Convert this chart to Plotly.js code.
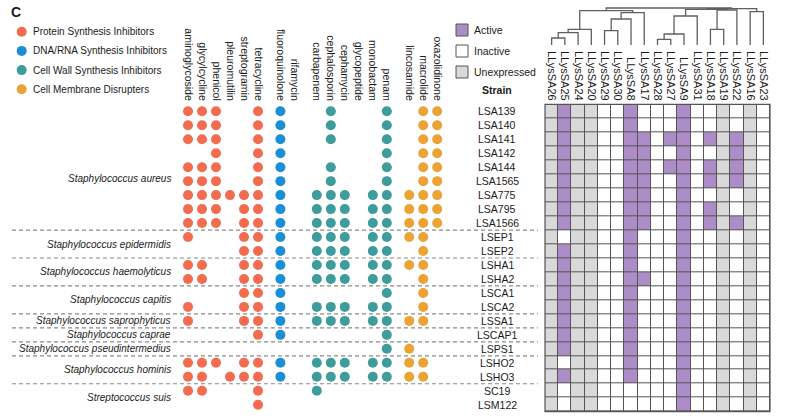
<!DOCTYPE html>
<html>
<head>
<meta charset="utf-8">
<script src="https://cdn.plot.ly/plotly-3.0.1.min.js"></script>
<style>html,body{margin:0;padding:0;background:#fff;}#chart{width:803px;height:419px;}</style>
</head>
<body>
<div id="chart"></div>
<script>
// ---------------- DATA ----------------
const drugClasses = ['aminoglycoside','glycylcycline','phenicol','pleuromutilin','streptogramin','tetracycline',
  'fluoroquinolone','rifamycin',
  'carbapenem','cephalosporin','cephamycin','glycopeptide','monobactam','penam',
  'lincosamide','macrolide','oxazolidinone'];
const mechanisms = ['Protein Synthesis Inhibitors','DNA/RNA Synthesis Inhibitors','Cell Wall Synthesis Inhibitors','Cell Membrane Disrupters'];
const classMechanism = [0,0,0,0,0,0, 1,1, 2,2,2,2,2,2, 3,3,3];

const strains = ['LSA139','LSA140','LSA141','LSA142','LSA144','LSA1565','LSA775','LSA795','LSA1566',
  'LSEP1','LSEP2','LSHA1','LSHA2','LSCA1','LSCA2','LSSA1','LSCAP1','LSPS1','LSHO2','LSHO3','SC19','LSM122'];
const species = ['Staphylococcus aureus','Staphylococcus epidermidis','Staphylococcus haemolyticus','Staphylococcus capitis',
  'Staphylococcus saprophyticus','Staphylococcus caprae','Staphylococcus pseudintermedius','Staphylococcus hominis','Streptococcus suis'];
const speciesStrainCount = [9,2,2,2,1,1,1,2,2];

const basicSA = ['aminoglycoside','glycylcycline','phenicol','tetracycline','fluoroquinolone','cephalosporin','penam','macrolide','oxazolidinone'];
const resistanceGenes = [
  basicSA,
  basicSA,
  basicSA,
  ['phenicol','tetracycline','fluoroquinolone','penam','macrolide','oxazolidinone'],
  basicSA,
  basicSA,
  ['aminoglycoside','glycylcycline','phenicol','pleuromutilin','streptogramin','tetracycline','fluoroquinolone','carbapenem','cephalosporin','cephamycin','monobactam','penam','lincosamide','macrolide','oxazolidinone'],
  ['aminoglycoside','glycylcycline','phenicol','streptogramin','tetracycline','fluoroquinolone','carbapenem','cephalosporin','cephamycin','monobactam','penam','lincosamide','macrolide','oxazolidinone'],
  ['aminoglycoside','glycylcycline','phenicol','streptogramin','tetracycline','fluoroquinolone','carbapenem','cephalosporin','cephamycin','monobactam','penam','lincosamide','macrolide','oxazolidinone'],
  ['aminoglycoside','streptogramin','tetracycline','fluoroquinolone','carbapenem','cephalosporin','cephamycin','monobactam','penam','lincosamide','macrolide'],
  ['streptogramin','tetracycline','fluoroquinolone','carbapenem','cephalosporin','cephamycin','monobactam','penam','macrolide'],
  ['aminoglycoside','glycylcycline','streptogramin','tetracycline','fluoroquinolone','carbapenem','cephalosporin','cephamycin','monobactam','penam','lincosamide','macrolide'],
  ['aminoglycoside','glycylcycline','streptogramin','tetracycline','fluoroquinolone','carbapenem','cephalosporin','cephamycin','monobactam','penam','macrolide'],
  ['streptogramin','tetracycline','fluoroquinolone','penam','macrolide'],
  ['aminoglycoside','streptogramin','tetracycline','fluoroquinolone','carbapenem','cephalosporin','cephamycin','monobactam','penam','macrolide'],
  ['aminoglycoside','streptogramin','tetracycline','fluoroquinolone','carbapenem','cephalosporin','cephamycin','monobactam','penam','lincosamide','macrolide'],
  ['tetracycline','fluoroquinolone','penam'],
  ['penam','lincosamide'],
  ['aminoglycoside','glycylcycline','phenicol','streptogramin','tetracycline','fluoroquinolone','carbapenem','cephalosporin','cephamycin','monobactam','penam','lincosamide','macrolide'],
  ['aminoglycoside','glycylcycline','pleuromutilin','streptogramin','tetracycline','fluoroquinolone','carbapenem','cephalosporin','cephamycin','monobactam','penam','lincosamide','macrolide'],
  ['aminoglycoside','glycylcycline','tetracycline','carbapenem'],
  ['tetracycline']
];

const lysins = ['LLysSA26','LLysSA25','LLysSA24','LLysSA20','LLysSA29','LLysSA30','LLysSA8','LLysSA17','LLysSA28',
  'LLysSA27','LLysSA9','LLysSA31','LLysSA18','LLysSA19','LLysSA22','LLysSA16','LLysSA23'];
const unexpressedLysins = ['LLysSA26','LLysSA24','LLysSA20','LLysSA19','LLysSA16'];
const activeLysins = [
  ['LLysSA25','LLysSA8','LLysSA9'],
  ['LLysSA25','LLysSA8','LLysSA9'],
  ['LLysSA25','LLysSA8','LLysSA17','LLysSA27','LLysSA9','LLysSA18','LLysSA22'],
  ['LLysSA25','LLysSA8','LLysSA17','LLysSA9','LLysSA22'],
  ['LLysSA25','LLysSA8','LLysSA17','LLysSA27','LLysSA9','LLysSA18','LLysSA22'],
  ['LLysSA25','LLysSA8','LLysSA17','LLysSA9','LLysSA18','LLysSA22'],
  ['LLysSA25','LLysSA8','LLysSA17','LLysSA9'],
  ['LLysSA25','LLysSA8','LLysSA17','LLysSA9','LLysSA18'],
  ['LLysSA25','LLysSA8','LLysSA17','LLysSA9','LLysSA18','LLysSA22'],
  ['LLysSA8','LLysSA9'],
  ['LLysSA25','LLysSA8','LLysSA9'],
  ['LLysSA25','LLysSA8','LLysSA9'],
  ['LLysSA25','LLysSA8','LLysSA17','LLysSA9'],
  ['LLysSA25','LLysSA8','LLysSA9'],
  ['LLysSA25','LLysSA8','LLysSA9'],
  ['LLysSA25','LLysSA8','LLysSA9'],
  ['LLysSA25','LLysSA8','LLysSA9'],
  ['LLysSA25','LLysSA8','LLysSA9'],
  ['LLysSA8','LLysSA9'],
  ['LLysSA25','LLysSA8','LLysSA9'],
  ['LLysSA9'],
  ['LLysSA9']
];
const statusNames = ['Active','Inactive','Unexpressed'];

// dendrogram linkage: [childA, childB, height]; ids >= 17 refer to earlier merges
const lysinLinkage = [
  [0,1,7],[17,2,12.3],[18,3,15.7],
  [4,5,14.3],[20,6,26],[21,7,32.3],
  [19,22,34.3],
  [8,9,5.7],[24,10,11],[25,11,29],
  [12,13,15.7],[27,14,35],
  [26,28,35.7],
  [15,16,33.3],
  [29,30,36.3],
  [23,31,37]
];

// ---------------- STYLE / LAYOUT ----------------
const W = 803, H = 419;
const px = x => x / W, py = y => 1 - y / H;
const FONT = 'Liberation Sans, Arial, Helvetica, sans-serif';
const mechColors = ['#F26C4F','#1B8FD4','#3E9C9C','#EBA335'];
const statusColors = {Active:'#AC8DC7', Inactive:'#FFFFFF', Unexpressed:'#D9D9D9'};
const gridColor = '#555555';
const textColor = '#1a1a1a';

const rowTop = 104.3, rowBottom = 411.7;
const dotUnit = 14, dotLeft = 174, dotRight = 451, dotX0 = 188;
const heatLeft = 545, heatRight = 770;

// column positions for drug classes (index plus gap per mechanism group)
const classPos = drugClasses.map((c, i) => i + 0.6 * classMechanism[i]);

// dots traces
const traces = [];
mechanisms.forEach((m, g) => {
  const xs = [], ys = [];
  strains.forEach((s, r) => {
    resistanceGenes[r].forEach(c => {
      const ci = drugClasses.indexOf(c);
      if (classMechanism[ci] === g) { xs.push(classPos[ci]); ys.push(s); }
    });
  });
  traces.push({type:'scatter', mode:'markers', x: xs, y: ys, xaxis:'x', yaxis:'y', name: m,
    marker:{size:10, color: mechColors[g]}, hoverinfo:'skip'});
});

// heatmap
const statusValue = {Unexpressed:0, Inactive:1, Active:2};
const z = strains.map((s, r) => lysins.map(l =>
  unexpressedLysins.includes(l) ? statusValue.Unexpressed :
  (activeLysins[r].includes(l) ? statusValue.Active : statusValue.Inactive)));
traces.push({type:'heatmap', x: lysins, y: strains, z: z, xaxis:'x2', yaxis:'y',
  zmin:0, zmax:2, showscale:false, xgap:1, ygap:1, hoverinfo:'skip',
  colorscale:[[0,statusColors.Unexpressed],[0.333,statusColors.Unexpressed],[0.334,statusColors.Inactive],
              [0.666,statusColors.Inactive],[0.667,statusColors.Active],[1,statusColors.Active]]});

// dendrogram
const nodeX = lysins.map((_, i) => i), nodeH = lysins.map(() => 0);
const dx = [], dy = [];
lysinLinkage.forEach(([a, b, h]) => {
  dx.push(nodeX[a], nodeX[a], nodeX[b], nodeX[b], null);
  dy.push(nodeH[a], h, h, nodeH[b], null);
  nodeX.push((nodeX[a] + nodeX[b]) / 2); nodeH.push(h);
});
traces.push({type:'scatter', mode:'lines', x: dx, y: dy, xaxis:'x3', yaxis:'y2',
  line:{color:'#606060', width:1.3}, hoverinfo:'skip', connectgaps:false});

const shapes = [], annotations = [];

// heatmap grid background + border
shapes.push({type:'rect', xref:'x2 domain', yref:'y domain', x0:0, x1:1, y0:0, y1:1,
  fillcolor:gridColor, line:{width:0}, layer:'below'});
shapes.push({type:'rect', xref:'x2 domain', yref:'y domain', x0:0, x1:1, y0:0, y1:1,
  line:{color:gridColor, width:1.2}, layer:'above'});

// species labels and dashed separators
let start = 0;
const labelShift = {'Staphylococcus aureus': 0.8};
species.forEach((sp, k) => {
  const n = speciesStrainCount[k];
  const center = start + (n - 1) / 2 + (labelShift[sp] || 0);
  annotations.push({xref:'paper', yref:'y', x: px(173), y: center, text: sp, showarrow:false,
    xanchor:'right', yanchor:'middle', font:{family:FONT, size:10, color:textColor, style:'italic'}});
  start += n;
  if (k < species.length - 1) {
    shapes.push({type:'line', xref:'paper', yref:'y', x0: px(12), x1: px(538), y0: start - 0.5, y1: start - 0.5,
      line:{color:'#8a8a8a', width:1.2, dash:'4px,3px'}});
  }
});

// strain labels
strains.forEach(s => annotations.push({xref:'paper', yref:'y', x: px(497), y: s, text: s, showarrow:false,
  xanchor:'center', yanchor:'middle', font:{family:FONT, size:10.5, color:textColor}}));
annotations.push({xref:'paper', yref:'paper', x: px(497), y: py(90), text:'<b>Strain</b>', showarrow:false,
  xanchor:'center', yanchor:'middle', font:{family:FONT, size:10.5, color:textColor}});

// panel letter
annotations.push({xref:'paper', yref:'paper', x: px(9), y: py(12), text:'<b>C</b>', showarrow:false,
  xanchor:'left', yanchor:'middle', font:{family:FONT, size:14, color:textColor}});

// mechanism legend
mechanisms.forEach((m, g) => {
  const cy = 31.7 + g * 19.2, cx = 21.7, r = 5;
  shapes.push({type:'circle', xref:'paper', yref:'paper', x0: px(cx - r), x1: px(cx + r), y0: py(cy + r), y1: py(cy - r),
    fillcolor: mechColors[g], line:{width:0}});
  annotations.push({xref:'paper', yref:'paper', x: px(31), y: py(cy), text: m, showarrow:false,
    xanchor:'left', yanchor:'middle', font:{family:FONT, size:10, color:textColor}});
});

// status legend
statusNames.forEach((s, k) => {
  const cy = 30 + k * 21;
  shapes.push({type:'rect', xref:'paper', yref:'paper', x0: px(456), x1: px(468), y0: py(cy + 6), y1: py(cy - 6),
    fillcolor: statusColors[s], line:{color:gridColor, width:1}});
  annotations.push({xref:'paper', yref:'paper', x: px(472), y: py(cy), text: s, showarrow:false,
    xanchor:'left', yanchor:'middle', font:{family:FONT, size:10.5, color:textColor}});
});

const yDomain = [py(rowBottom), py(rowTop)];
const layout = {
  width: W, height: H, margin:{l:0, r:0, t:0, b:0},
  paper_bgcolor:'#ffffff', plot_bgcolor:'rgba(0,0,0,0)', showlegend:false,
  font:{family:FONT, color:textColor},
  xaxis:{domain:[px(dotLeft), px(dotRight)], range:[(dotLeft - dotX0) / dotUnit, (dotRight - dotX0) / dotUnit],
    anchor:'y', side:'top', tickmode:'array', tickvals: classPos, ticktext: drugClasses, tickangle:90,
    showgrid:false, zeroline:false, showline:false, ticks:'', ticklabelstandoff:1,
    tickfont:{family:FONT, size:10.5, color:textColor}},
  xaxis2:{domain:[px(heatLeft), px(heatRight)], type:'category', categoryorder:'array', categoryarray: lysins,
    range:[-0.5, lysins.length - 0.5], anchor:'y', side:'top', tickangle:90, showgrid:false, zeroline:false,
    showline:false, ticks:'', ticklabelstandoff:1, tickfont:{family:FONT, size:11, color:textColor}},
  yaxis:{domain: yDomain, type:'category', categoryorder:'array', categoryarray: strains,
    range:[strains.length - 0.5, -0.5], anchor:'x', visible:false, showgrid:false, zeroline:false},
  xaxis3:{domain:[px(heatLeft), px(heatRight)], range:[-0.5, lysins.length - 0.5], anchor:'y2', visible:false,
    showgrid:false, zeroline:false},
  yaxis2:{domain:[py(45), py(5)], range:[0, 40], anchor:'x3', visible:false, showgrid:false, zeroline:false},
  shapes: shapes, annotations: annotations
};

Plotly.newPlot('chart', traces, layout, {staticPlot:true, displayModeBar:false});
</script>
</body>
</html>
